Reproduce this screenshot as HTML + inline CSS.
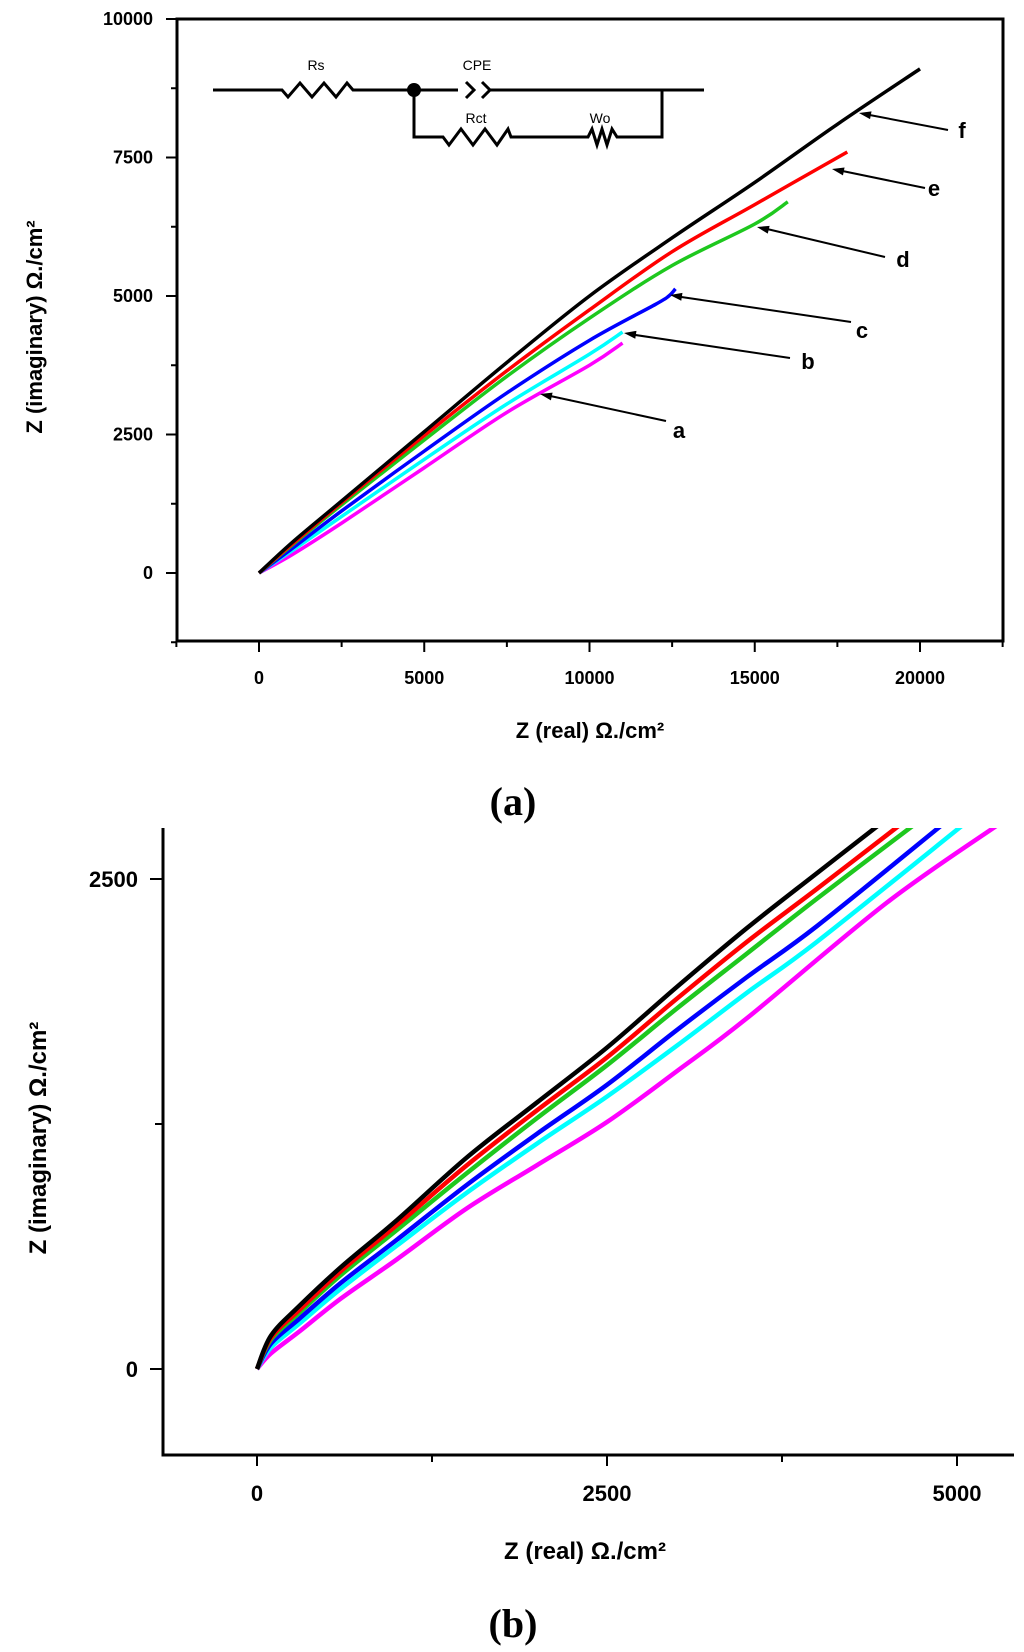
<!DOCTYPE html>
<html><head><meta charset="utf-8"><style>
html,body{margin:0;padding:0;background:#fff;}
svg{display:block;font-family:"Liberation Sans",sans-serif;}
</style></head><body>
<svg id="s" width="1024" height="1652" viewBox="0 0 1024 1652" xmlns="http://www.w3.org/2000/svg">
<g id="pa"></g>
<g id="pb"></g>
</svg>
<script>
const seriesNames=["f","e","d","c","b","a"];
const seriesColors=["#000000","#ff0000","#1ec81e","#0000ff","#00ffff","#ff00ff"];
const aTicksX=[0,5000,10000,15000,20000];
const aTicksY=[0,2500,5000,7500,10000];
const aF=[[0,0],[1000,550],[2500,1300],[5000,2550],[7500,3800],[10000,5000],[12500,6050],[15000,7050],[17500,8100],[20000,9100]];
const aE=[[0,0],[1000,520],[2500,1270],[5000,2480],[7500,3650],[10000,4750],[12500,5800],[15000,6650],[17800,7600]];
const aD=[[0,0],[1000,500],[2500,1230],[5000,2400],[7500,3550],[10000,4600],[12500,5550],[15000,6300],[16000,6700]];
const aC=[[0,0],[1000,440],[2500,1120],[5000,2200],[7500,3250],[10000,4200],[12000,4850],[12400,5000],[12600,5130]];
const aB=[[0,0],[1000,400],[2500,1020],[5000,2050],[7500,3050],[10000,3950],[11000,4350]];
const aA=[[0,0],[1000,330],[2500,900],[5000,1900],[7500,2900],[10000,3750],[11000,4150]];
const bTicksX=[0,2500,5000];
const bTicksY=[0,2500];
const bF=[[0,0],[100,170],[300,320],[600,520],[1000,760],[1500,1080],[2000,1360],[2500,1640],[3000,1950],[3500,2250],[4000,2530],[4450,2780]];
const bE=[[0,0],[100,160],[300,300],[600,500],[1000,735],[1500,1040],[2000,1320],[2500,1590],[3000,1890],[3500,2180],[4000,2450],[4600,2780]];
const bD=[[0,0],[100,150],[300,285],[600,480],[1000,710],[1500,1000],[2000,1280],[2500,1550],[3000,1840],[3500,2120],[4000,2400],[4700,2780]];
const bC=[[0,0],[100,130],[300,255],[600,440],[1000,660],[1500,940],[2000,1200],[2500,1450],[3000,1730],[3500,2000],[4000,2260],[4900,2780]];
const bB=[[0,0],[100,110],[300,230],[600,410],[1000,630],[1500,900],[2000,1150],[2500,1390],[3000,1650],[3500,1920],[4000,2180],[5050,2780]];
const bA=[[0,0],[100,80],[300,190],[600,360],[1000,560],[1500,820],[2000,1040],[2500,1260],[3000,1520],[3500,1790],[4500,2380],[5300,2780]];

const NS="http://www.w3.org/2000/svg";
function mk(p,t,a,txt){const e=document.createElementNS(NS,t);for(const k in a)e.setAttribute(k,a[k]);if(txt!==undefined)e.textContent=txt;p.appendChild(e);return e;}
function smooth(pts){let d='M'+pts[0][0]+','+pts[0][1];
for(let i=0;i<pts.length-1;i++){const p0=pts[Math.max(0,i-1)],p1=pts[i],p2=pts[i+1],p3=pts[Math.min(pts.length-1,i+2)];
const c1x=p1[0]+(p2[0]-p0[0])/6,c1y=p1[1]+(p2[1]-p0[1])/6,c2x=p2[0]-(p3[0]-p1[0])/6,c2y=p2[1]-(p3[1]-p1[1])/6;
d+=` C${c1x},${c1y} ${c2x},${c2y} ${p2[0]},${p2[1]}`;}return d;}

// Panel A
const pa=document.getElementById('pa');
const ax=v=>259+(v/20000)*661, ay=v=>573-(v/10000)*554;
let fr=mk(pa,'rect',{x:177,y:19,width:826,height:622,fill:'none',stroke:'#000','stroke-width':3});

for(let v=-1250;v<=10000;v+=1250){const t=mk(pa,'line',{x1:177,x2:(v%2500===0?166:171),y1:ay(v),y2:ay(v),stroke:'#000','stroke-width':2});
}
for(let v=-2500;v<=22500;v+=2500){const t=mk(pa,'line',{x1:ax(v),x2:ax(v),y1:641,y2:(v%5000===0?652:647),stroke:'#000','stroke-width':2});
}
aTicksY.forEach(v=>{const t=mk(pa,'text',{x:153,y:ay(v)+6,'text-anchor':'end','font-size':18,'font-weight':'bold'},String(v));
});
aTicksX.forEach(v=>{const t=mk(pa,'text',{x:ax(v),y:684,'text-anchor':'middle','font-size':18,'font-weight':'bold'},String(v));
});
let xt=mk(pa,'text',{x:590,y:738,'text-anchor':'middle','font-size':22,'font-weight':'bold'},'Z (real)  Ω./cm²');

let yt=mk(pa,'text',{x:0,y:0,transform:'translate(42,327) rotate(-90)','text-anchor':'middle','font-size':22,'font-weight':'bold'},'Z (imaginary) Ω./cm²');

const aData=[aF,aE,aD,aC,aB,aA];
for(let i=aData.length-1;i>=0;i--){const pl=mk(pa,'path',{d:smooth(aData[i].map(p=>[ax(p[0]),ay(p[1])])),fill:'none',stroke:seriesColors[i],'stroke-width':3.5,'stroke-linejoin':'round'});
}
const arrows=[[948,130,859,113,962,138],[925,188,832,169,934,196],[885,257,757,227,903,267],[851,322,670,295,862,338],[790,358,624,333,808,369],[666,421,540,394,679,438]];
arrows.forEach((a,i)=>{const g=mk(pa,'g',{});
mk(g,'line',{x1:a[0],y1:a[1],x2:a[2]+8,y2:a[3]+1.5,stroke:'#000','stroke-width':2});
const dx=a[0]-a[2],dy=a[1]-a[3],L=Math.hypot(dx,dy),ux=dx/L,uy=dy/L;
mk(g,'polygon',{points:`${a[2]},${a[3]} ${a[2]+12*ux-4*uy},${a[3]+12*uy+4*ux} ${a[2]+12*ux+4*uy},${a[3]+12*uy-4*ux}`,fill:'#000'});
mk(g,'text',{x:a[4],y:a[5],'text-anchor':'middle','font-size':22,'font-weight':'bold'},seriesNames[i]);});
const c=mk(pa,'g',{stroke:'#000','stroke-width':3,fill:'none'});

mk(c,'polyline',{points:'213,90 282,90 288,97 300,83 312,97 324,83 336,97 347,83 353,90 458,90'});
mk(c,'polyline',{points:'466,82 474,90 466,98'});
mk(c,'polyline',{points:'482,82 490,90 482,98'});
mk(c,'line',{x1:490,y1:90,x2:704,y2:90});
mk(c,'polyline',{points:'414,90 414,137 443,137 449,145 461,129 473,145 485,129 497,145 508,129 511,137 588,137 592,129 597,145 602,129 607,145 612,129 617,137 662,137 662,90'});
mk(pa,'circle',{cx:414,cy:90,r:7,fill:'#000'});
[['Rs',316,70],['CPE',477,70],['Rct',476,123],['Wo',600,123]].forEach(l=>{const t=mk(pa,'text',{x:l[1],y:l[2],'text-anchor':'middle','font-size':14},l[0]);
});
let la=mk(pa,'text',{x:513,y:815,'text-anchor':'middle','font-size':40,'font-weight':'bold','font-family':'Liberation Serif, serif'},'(a)');


// Panel B
const pb=document.getElementById('pb');
const bx=v=>257+(v/5000)*700, by=v=>1369-(v/2500)*490;
mk(pb,'defs',{}).innerHTML='<clipPath id="cb"><rect x="163" y="828" width="860" height="627"/></clipPath>';
let axl=mk(pb,'polyline',{points:'163,828 163,1455 1014,1455',fill:'none',stroke:'#000','stroke-width':3});

for(let v=0;v<=2500;v+=1250){const t=mk(pb,'line',{x1:163,x2:(v%2500===0?150:155),y1:by(v),y2:by(v),stroke:'#000','stroke-width':2});
}
for(let v=0;v<=5000;v+=1250){const t=mk(pb,'line',{x1:bx(v),x2:bx(v),y1:1455,y2:(v%2500===0?1466:1462),stroke:'#000','stroke-width':2});
}
bTicksY.forEach(v=>{const t=mk(pb,'text',{x:138,y:by(v)+8,'text-anchor':'end','font-size':22,'font-weight':'bold'},String(v));
});
bTicksX.forEach(v=>{const t=mk(pb,'text',{x:bx(v),y:1501,'text-anchor':'middle','font-size':22,'font-weight':'bold'},String(v));
});
let xtb=mk(pb,'text',{x:585,y:1559,'text-anchor':'middle','font-size':24,'font-weight':'bold'},'Z (real) Ω./cm²');

let ytb=mk(pb,'text',{x:0,y:0,transform:'translate(46,1138) rotate(-90)','text-anchor':'middle','font-size':24,'font-weight':'bold'},'Z (imaginary) Ω./cm²');

const bData=[bF,bE,bD,bC,bB,bA];
for(let i=bData.length-1;i>=0;i--){const pl=mk(pb,'path',{d:smooth(bData[i].map(p=>[bx(p[0]),by(p[1])])),fill:'none',stroke:seriesColors[i],'stroke-width':4.5,'stroke-linejoin':'round','clip-path':'url(#cb)'});
}
let lb=mk(pb,'text',{x:513,y:1637,'text-anchor':'middle','font-size':40,'font-weight':'bold','font-family':'Liberation Serif, serif'},'(b)');

</script>
</body></html>
